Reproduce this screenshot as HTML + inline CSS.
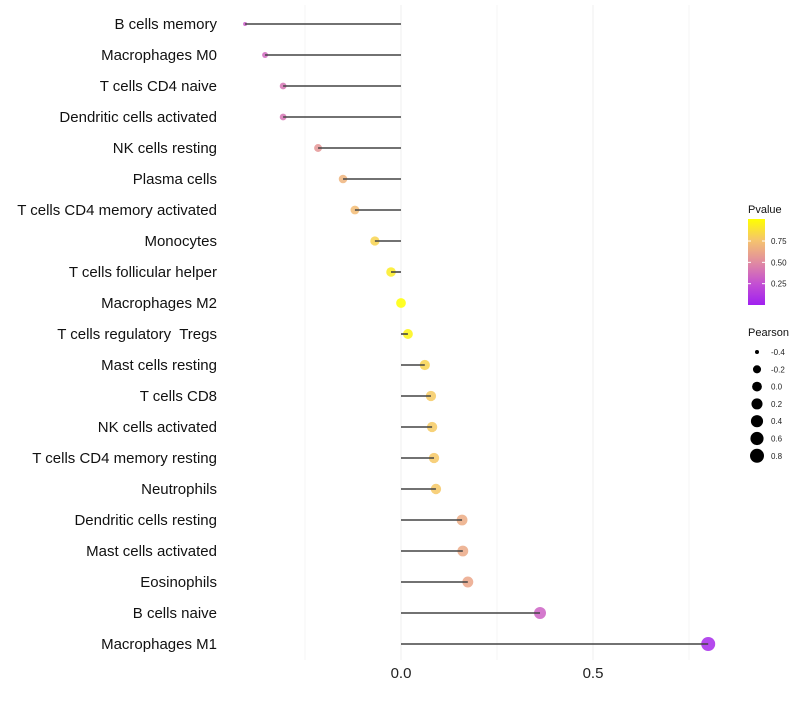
<!DOCTYPE html>
<html><head><meta charset="utf-8"><style>
body{margin:0;background:#fff;font-family:"Liberation Sans",sans-serif}
</style></head><body>
<svg id="c" width="800" height="700" xmlns="http://www.w3.org/2000/svg"></svg>
<script>
const categories=["B cells memory","Macrophages M0","T cells CD4 naive","Dendritic cells activated","NK cells resting","Plasma cells","T cells CD4 memory activated","Monocytes","T cells follicular helper","Macrophages M2","T cells regulatory  Tregs","Mast cells resting","T cells CD8","NK cells activated","T cells CD4 memory resting","Neutrophils","Dendritic cells resting","Mast cells activated","Eosinophils","B cells naive","Macrophages M1"];
const pearson=[-0.406,-0.354,-0.307,-0.307,-0.216,-0.151,-0.12,-0.068,-0.026,0.0,0.018,0.062,0.078,0.081,0.086,0.091,0.159,0.161,0.174,0.362,0.80];
const pvalue=[0.3,0.35,0.4,0.4,0.55,0.68,0.72,0.82,0.92,1.0,0.96,0.82,0.78,0.78,0.77,0.77,0.64,0.63,0.62,0.32,0.05];
const xTicks=[0,0.5];
const xMinor=[-0.25,0.25,0.75];
const sizeLegend=[-0.4,-0.2,0.0,0.2,0.4,0.6,0.8];
const colorTicks=[0.75,0.5,0.25];
const NS="http://www.w3.org/2000/svg",svg=document.getElementById('c');
const x=v=>401+v*384;
const y=i=>24+i*31;
const r=v=>2+5*Math.sqrt(Math.max(0,(v+0.4)/1.2));
const stops=[[0,[160,32,240]],[0.25,[196,80,210]],[0.5,[225,140,160]],[0.75,[245,195,110]],[1,[255,255,0]]];
function col(p){p=Math.max(0,Math.min(1,p));for(let k=1;k<stops.length;k++){if(p<=stops[k][0]){const a=stops[k-1],b=stops[k],t=(p-a[0])/(b[0]-a[0]);return 'rgb('+a[1].map((c,j)=>Math.round(c+(b[1][j]-c)*t)).join(',')+')';}}return 'rgb(255,255,0)';}
function mk(t,at,parent){const e=document.createElementNS(NS,t);for(const k in at)e.setAttribute(k,at[k]);(parent||svg).appendChild(e);return e;}
xMinor.forEach(v=>{const g=mk('line',{x1:x(v),x2:x(v),y1:5,y2:660,stroke:'#f5f5f5','stroke-width':1});

});
xTicks.forEach(v=>{const g=mk('line',{x1:x(v),x2:x(v),y1:5,y2:660,stroke:'#efefef','stroke-width':1});


const t=mk('text',{x:x(v),y:678,'text-anchor':'middle','font-size':15,fill:'#222'});t.textContent=v.toFixed(1);

});
categories.forEach((c,i)=>{
const t=mk('text',{x:217,y:y(i)+5,'text-anchor':'end','font-size':15,fill:'#111'});t.textContent=c;
t.setAttribute('xml:space','preserve');t.style.whiteSpace='pre';


const p=mk('circle',{cx:x(pearson[i]),cy:y(i),r:r(pearson[i]),fill:col(pvalue[i]),opacity:0.85});


const l=mk('line',{x1:x(0),x2:x(pearson[i]),y1:y(i),y2:y(i),stroke:'#444','stroke-width':1.6});


});
const defs=mk('defs',{});const lg=mk('linearGradient',{id:'g',x1:0,y1:1,x2:0,y2:0},defs);
stops.forEach(s=>mk('stop',{offset:s[0],'stop-color':'rgb('+s[1].join(',')+')'},lg));
let tt=mk('text',{x:748,y:213,'font-size':11,fill:'#111'});tt.textContent='Pvalue';


const cb=mk('rect',{x:748,y:219,width:17,height:86,fill:'url(#g)'});


const cy=v=>305-v*85.3;
colorTicks.forEach(v=>{mk('line',{x1:748,x2:751,y1:cy(v),y2:cy(v),stroke:'#fff'});mk('line',{x1:762,x2:765,y1:cy(v),y2:cy(v),stroke:'#fff'});
const t=mk('text',{x:771,y:cy(v)+3,'font-size':8,fill:'#222'});t.textContent=v.toFixed(2);

});
tt=mk('text',{x:748,y:336,'font-size':11,fill:'#111'});tt.textContent='Pearson';


sizeLegend.forEach((v,k)=>{const yy=352+k*17.3;
const c=mk('circle',{cx:757,cy:yy,r:r(v),fill:'#000'});


const t=mk('text',{x:771,y:yy+3,'font-size':8,fill:'#222'});t.textContent=v.toFixed(1);

});
</script>
</body></html>
